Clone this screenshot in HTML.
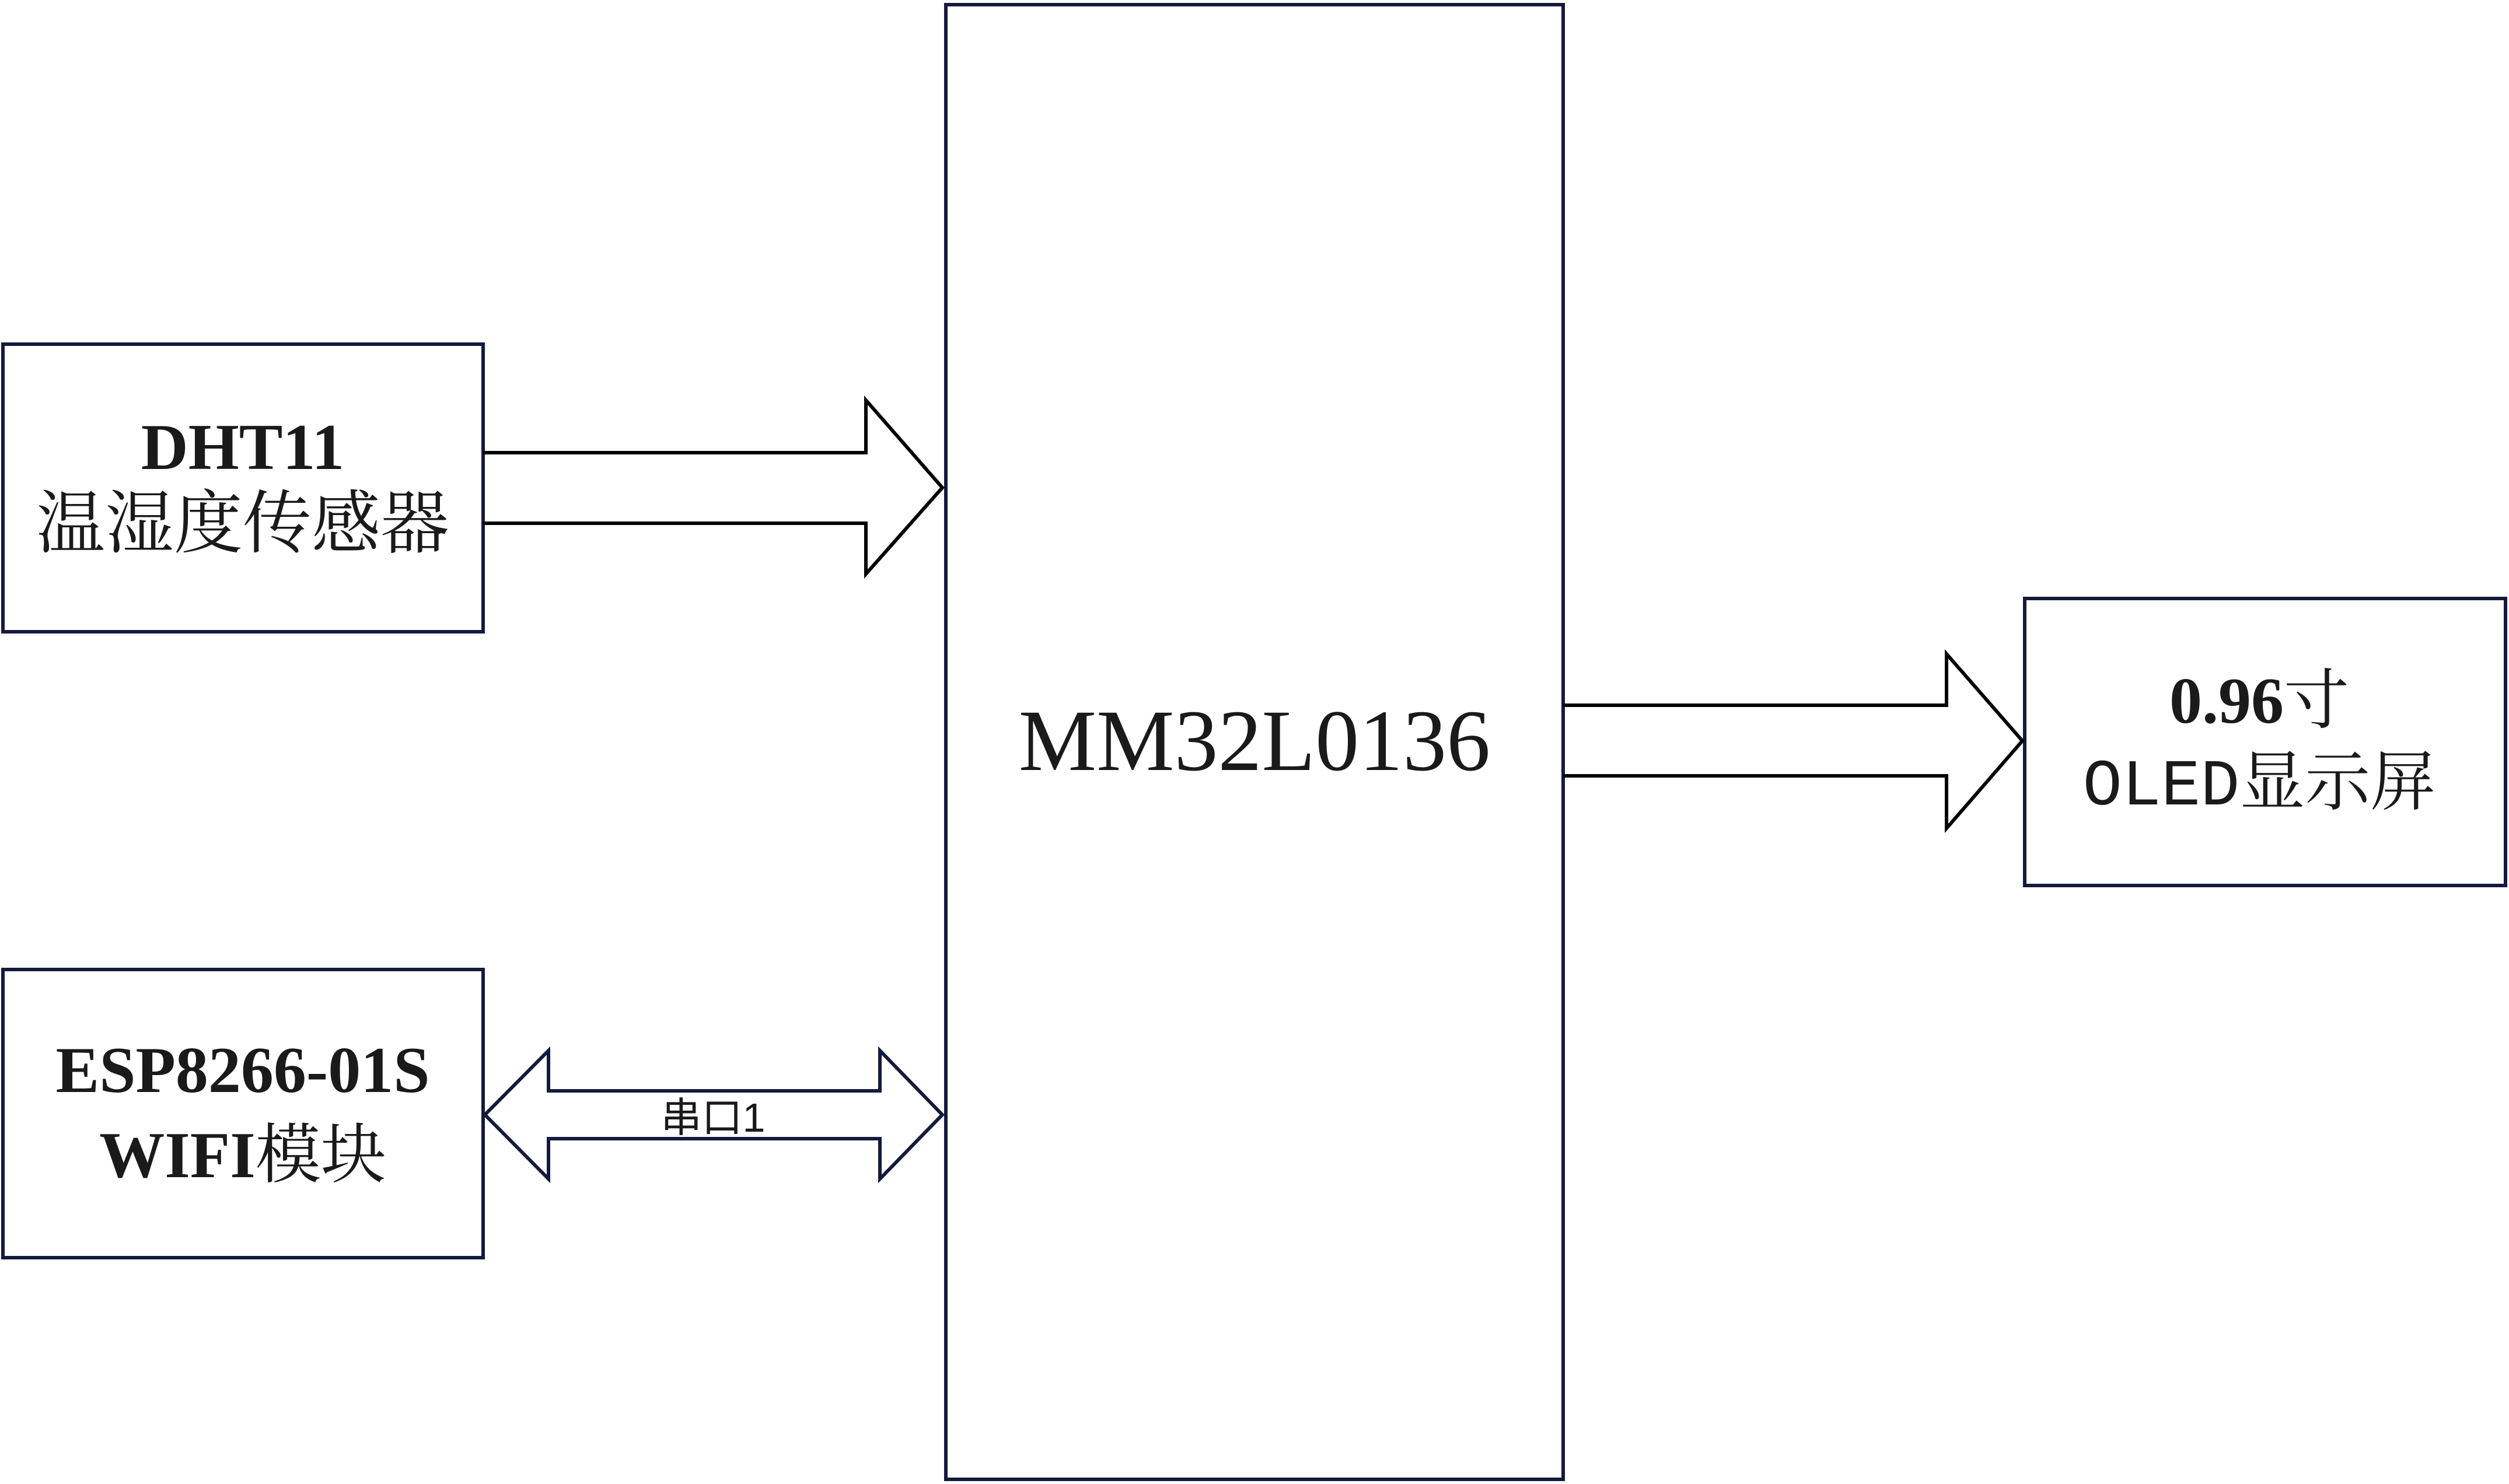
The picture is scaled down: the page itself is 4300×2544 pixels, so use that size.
<!DOCTYPE html>
<html><head><meta charset="utf-8"><style>
html,body{margin:0;padding:0;background:#fff;}
svg{display:block;}
.b{font-family:"Liberation Serif","Noto Serif CJK SC",serif;font-weight:bold;fill:#1a1a1a;}
.r{font-family:"Liberation Serif","Noto Serif CJK SC",serif;fill:#1a1a1a;}
</style></head><body>
<svg width="4300" height="2544" viewBox="0 0 4300 2544" xmlns="http://www.w3.org/2000/svg">
<g fill="none" stroke="#141a3c" stroke-width="6">
<rect x="1621" y="8" width="1058" height="2528"/>
<rect x="5" y="590" width="823" height="493"/>
<rect x="5" y="1662" width="823" height="494"/>
<rect x="3470" y="1026" width="824" height="492"/>
</g>
<g fill="none" stroke="#000" stroke-width="6" stroke-linejoin="miter">
<path d="M828 776 H1484 V686 L1615 836 L1484 984 V897 H828"/>
<path d="M2679 1209 H3336 V1121 L3466 1270 L3336 1420 V1330 H2679"/>
</g>
<path d="M831 1911 L940 1801 V1870 H1508 V1801 L1615 1911 L1508 2021 V1952 H940 V2021 Z" fill="none" stroke="#141a3c" stroke-width="6"/>
<text x="416" y="804" text-anchor="middle" class="b" font-size="112">DHT11</text>
<text x="416" y="938" text-anchor="middle" class="r" font-size="118">温湿度传感器</text>
<text x="416" y="1872" text-anchor="middle" class="b" font-size="112">ESP8266-01S</text>
<text x="416" y="2018" text-anchor="middle" class="b" font-size="112">WIFI<tspan font-weight="normal">模块</tspan></text>
<text x="2150" y="1320" text-anchor="middle" class="r" font-size="150">MM32L0136</text>
<text x="3872" y="1239" text-anchor="middle" class="b" font-size="112">0.96<tspan font-weight="normal">寸</tspan></text>
<text x="3872" y="1379" text-anchor="middle" class="r" font-size="112"><tspan font-family="Liberation Mono,monospace">OLED</tspan>显示屏</text>
<text x="1222" y="1940" text-anchor="middle" font-family="Liberation Sans,'Noto Sans CJK SC',sans-serif" font-size="70" fill="#1a1a1a">串口1</text>
</svg>
</body></html>
